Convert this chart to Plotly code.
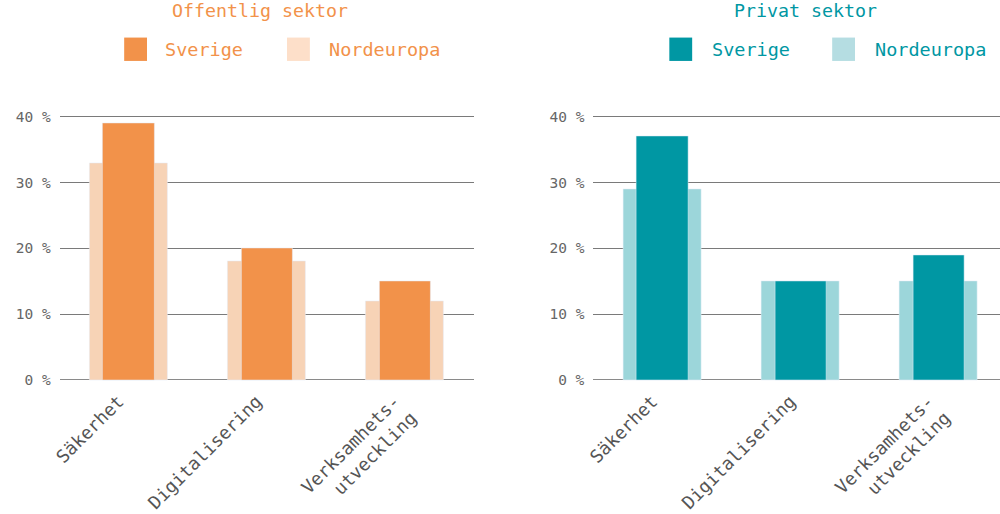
import plotly.graph_objects as go

categories = ["Säkerhet", "Digitalisering", "Verksamhets-<br>utveckling"]
offentlig_sverige = [39, 20, 15]
offentlig_nordeuropa = [33, 18, 12]
privat_sverige = [37, 15, 19]
privat_nordeuropa = [29, 15, 15]
y_ticks = [0, 10, 20, 30, 40]
y_ticktext = ["0 %", "10 %", "20 %", "30 %", "40 %"]

ORANGE = "#F2924A"
ORANGE_LIGHT = "#F7D3B6"
ORANGE_LEG = "#FDDFC9"
TEAL = "#0097A3"
TEAL_LIGHT = "#9CD6DA"
TEAL_LEG = "#B5DDE2"
FONT = "DejaVu Sans Mono"
W, H = 1000, 514

# vertical layout helper: target pixel rows converted to layout rows
def ry(t):
    return (t - 7) / 0.971

fig = go.Figure()
x_idx = list(range(len(categories)))

fig.add_bar(x=x_idx, y=offentlig_nordeuropa, width=0.56, marker_color=ORANGE_LIGHT,
            xaxis="x", yaxis="y", name="Nordeuropa", showlegend=False, hoverinfo="y")
fig.add_bar(x=x_idx, y=offentlig_sverige, width=0.37, marker_color=ORANGE,
            xaxis="x", yaxis="y", name="Sverige", showlegend=False, hoverinfo="y")
fig.add_bar(x=x_idx, y=privat_nordeuropa, width=0.56, marker_color=TEAL_LIGHT,
            xaxis="x2", yaxis="y2", name="Nordeuropa", showlegend=False, hoverinfo="y")
fig.add_bar(x=x_idx, y=privat_sverige, width=0.37, marker_color=TEAL,
            xaxis="x2", yaxis="y2", name="Sverige", showlegend=False, hoverinfo="y")

y_top, y_bot = ry(121), ry(380)
unit = (y_bot - y_top) / 40.0
pad = 1.0
ydom = [(H - (y_bot + pad * unit)) / H, (H - (y_top - pad * unit)) / H]

xcommon = dict(tickmode="array", tickvals=x_idx, ticktext=categories, tickangle=-45,
               showgrid=False, zeroline=False, showline=False,
               ticklabelstandoff=0, ticklabelshift=-10,
               tickfont=dict(family=FONT, size=18, color="#555555"))
ycommon = dict(range=[-pad, 40 + pad], tickmode="array", tickvals=y_ticks, ticktext=y_ticktext,
               showgrid=True, gridcolor="#7a7a7a", gridwidth=1,
               zeroline=True, zerolinecolor="#8a8a8a", zerolinewidth=1,
               showline=False, ticklabelstandoff=8,
               tickfont=dict(family=FONT, size=14.5, color="#666666"), domain=ydom)

fig.update_layout(
    width=W, height=H, margin=dict(l=0, r=0, t=0, b=0),
    paper_bgcolor="white", plot_bgcolor="white", barmode="overlay", bargap=0,
    xaxis=dict(domain=[53 / W, 470 / W], range=[-0.5, 2.5], anchor="y", **xcommon),
    xaxis2=dict(domain=[590.5 / W, 1.0], range=[-0.5, 2.446], anchor="y2", **xcommon),
    yaxis=dict(anchor="x", **ycommon),
    yaxis2=dict(anchor="x2", **ycommon),
)

def px_x(v):
    return v / W

def px_y(v):
    return 1 - ry(v) / H

# Titles
fig.add_annotation(x=px_x(255), y=px_y(16), xref="paper", yref="paper", text="Offentlig sektor",
                   showarrow=False, font=dict(family=FONT, size=18.3, color=ORANGE),
                   xanchor="center", yanchor="middle")
fig.add_annotation(x=px_x(804), y=px_y(16), xref="paper", yref="paper", text="Privat sektor",
                   showarrow=False, font=dict(family=FONT, size=18.3, color=TEAL),
                   xanchor="center", yanchor="middle")

# Legends (swatches + labels)
legend_items = [
    (118, ORANGE, "Sverige", 157, ORANGE),
    (282, ORANGE_LEG, "Nordeuropa", 322, ORANGE),
    (667, TEAL, "Sverige", 708, TEAL),
    (831, TEAL_LEG, "Nordeuropa", 872, TEAL),
]
for sx, scol, label, tx, tcol in legend_items:
    fig.add_shape(type="rect", xref="paper", yref="paper",
                  x0=px_x(sx), x1=px_x(sx + 23), y0=px_y(66), y1=px_y(43),
                  fillcolor=scol, line=dict(width=0))
    fig.add_annotation(x=px_x(tx), y=px_y(55), xref="paper", yref="paper", text=label,
                       showarrow=False, font=dict(family=FONT, size=18.5, color=tcol),
                       xanchor="left", yanchor="middle")

post = (
    "var de=document.documentElement,b=document.body;"
    "de.style.margin='0';de.style.padding='0';de.style.overflow='hidden';de.style.height='514px';"
    "b.style.margin='0';b.style.padding='0';b.style.overflow='hidden';b.style.height='514px';"
    "var gd=document.getElementById('{plot_id}');"
    "gd.style.position='fixed';gd.style.top='0';gd.style.left='0';"
    "gd.style.width='1000px';gd.style.height='514px';"
)
fig.write_html("out.html", config={"displayModeBar": False}, post_script=post)
